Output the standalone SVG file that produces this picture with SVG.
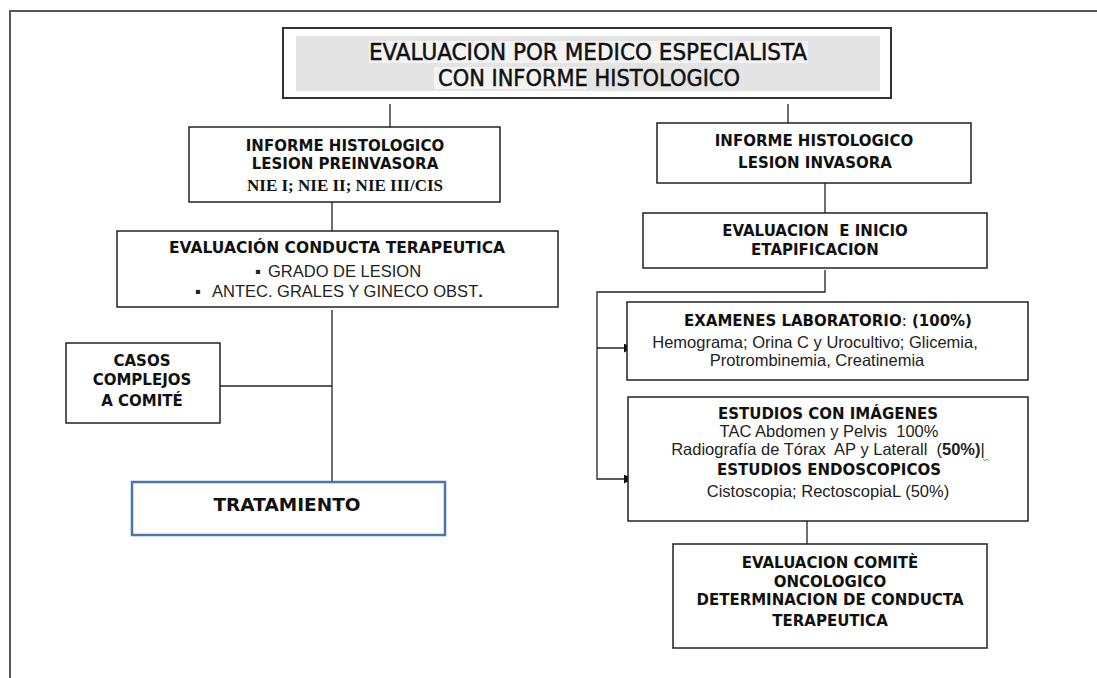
<svg xmlns="http://www.w3.org/2000/svg" width="1097" height="678" viewBox="0 0 1097 678">
<defs>
<style>
.box{fill:#fff;stroke:#222;stroke-width:1.5}
.conn{fill:none;stroke:#222;stroke-width:1.3}
.b{font-family:"DejaVu Sans",Verdana,sans-serif;font-weight:bold;font-size:15px;fill:#111;text-anchor:middle}
.r{font-family:"Liberation Sans",Arial,sans-serif;font-size:16.5px;fill:#222;text-anchor:middle}
.s{font-family:"Liberation Serif","Times New Roman",serif;font-weight:bold;font-size:17px;fill:#111;text-anchor:middle}
.t{font-family:"DejaVu Sans Condensed","DejaVu Sans",sans-serif;font-stretch:condensed;font-size:23px;fill:#111;stroke:#111;stroke-width:0.45;text-anchor:middle}
</style>
<marker id="arr" viewBox="0 0 10 10" refX="10" refY="5" markerWidth="10" markerHeight="9" markerUnits="userSpaceOnUse" orient="auto">
<path d="M0,0 L10,5 L0,10 Z" fill="#111"/>
</marker>
</defs>
<rect width="1097" height="678" fill="#fff"/>
<path d="M10,678 V11 H1097" fill="none" stroke="#555" stroke-width="2"/>

<g id="top">
<rect x="283" y="28" width="608" height="70" fill="#fff" stroke="#333" stroke-width="2"/>
<rect x="296" y="36" width="584" height="55" fill="#e4e4e4"/>
<rect x="369" y="41" width="439" height="22" fill="#f3f3f3"/>
<rect x="434" y="67" width="152" height="22" fill="#f3f3f3"/>
<text class="t" x="588" y="60" textLength="438" lengthAdjust="spacingAndGlyphs">EVALUACION POR MEDICO ESPECIALISTA</text>
<text class="t" x="589" y="86" textLength="302" lengthAdjust="spacingAndGlyphs">CON INFORME HISTOLOGICO</text>
</g>

<g id="connectors">
<line class="conn" x1="390" y1="104" x2="390" y2="127"/>
<line class="conn" x1="788" y1="104" x2="788" y2="123"/>
<line class="conn" x1="332" y1="198" x2="332" y2="231"/>
<line class="conn" x1="332" y1="310" x2="332" y2="482"/>
<line class="conn" x1="220" y1="386" x2="332" y2="386"/>
<line class="conn" x1="825" y1="179" x2="825" y2="213"/>
<polyline class="conn" points="825,270 825,292 597,292 597,479 633,479" marker-end="url(#arr)"/>
<line class="conn" x1="597" y1="348" x2="633" y2="348" marker-end="url(#arr)"/>
<line class="conn" x1="807" y1="521" x2="807" y2="544"/>
</g>

<g id="preinvasora">
<rect class="box" x="189" y="127" width="311" height="75"/>
<text class="b" x="345" y="151">INFORME HISTOLOGICO</text>
<text class="b" x="345" y="169">LESION PREINVASORA</text>
<text class="s" x="345" y="191">NIE I; NIE II; NIE III/CIS</text>
</g>

<g id="conducta">
<rect class="box" x="117" y="231" width="441" height="76"/>
<text class="b" x="337" y="253" style="font-size:15.5px">EVALUACIÓN CONDUCTA TERAPEUTICA</text>
<text class="r" style="text-anchor:start"><tspan x="255" y="277">▪</tspan><tspan x="268" y="277">GRADO DE LESION</tspan></text>
<text class="r" style="text-anchor:start"><tspan x="195" y="297">▪</tspan><tspan x="212" y="297">ANTEC. GRALES Y GINECO OBST</tspan><tspan font-weight="bold">.</tspan></text>
</g>

<g id="casos">
<rect class="box" x="66" y="343" width="154" height="80"/>
<text class="b" x="142" y="366">CASOS</text>
<text class="b" x="142" y="385">COMPLEJOS</text>
<text class="b" x="142" y="406">A COMITÉ</text>
</g>

<g id="tratamiento">
<rect x="132" y="482" width="313" height="53" fill="#fff" stroke="#4a76ad" stroke-width="2.5"/>
<text class="b" x="287" y="511" style="font-size:18.5px">TRATAMIENTO</text>
</g>

<g id="invasora">
<rect class="box" x="657" y="123" width="314" height="60"/>
<text class="b" x="814" y="146">INFORME HISTOLOGICO</text>
<text class="b" x="815" y="168">LESION INVASORA</text>
</g>

<g id="etapificacion">
<rect class="box" x="643" y="213" width="344" height="55"/>
<text class="b" x="815" y="236" xml:space="preserve">EVALUACION  E INICIO</text>
<text class="b" x="815" y="255">ETAPIFICACION</text>
</g>

<g id="laboratorio">
<rect class="box" x="627" y="302" width="401" height="78"/>
<text class="b" x="828" y="326">EXAMENES LABORATORIO<tspan font-weight="normal">:</tspan> (100%)</text>
<text class="r" x="815" y="348">Hemograma; Orina C y Urocultivo; Glicemia,</text>
<text class="r" x="817" y="366">Protrombinemia, Creatinemia</text>
</g>

<g id="imagenes">
<rect class="box" x="628" y="397" width="400" height="124"/>
<text class="b" x="828" y="419">ESTUDIOS CON IMÁGENES</text>
<text class="r" x="829" y="437" xml:space="preserve">TAC Abdomen y Pelvis  100%</text>
<text class="r" x="828" y="455" xml:space="preserve">Radiografía de Tórax  AP y Laterall  (<tspan font-weight="bold">50%)</tspan>|</text>
<path d="M983,459 l2,2 l2,-2 l2,2" fill="none" stroke="#3a3" stroke-width="0.8"/>
<text class="b" x="829" y="475">ESTUDIOS ENDOSCOPICOS</text>
<text class="r" x="828" y="497">Cistoscopia; RectoscopiaL (50%)</text>
</g>

<g id="comite">
<rect class="box" x="673" y="544" width="314" height="104"/>
<text class="b" x="830" y="568">EVALUACION COMITÈ</text>
<text class="b" x="830" y="587">ONCOLOGICO</text>
<text class="b" x="830" y="605">DETERMINACION DE CONDUCTA</text>
<text class="b" x="830" y="626">TERAPEUTICA</text>
</g>
</svg>
